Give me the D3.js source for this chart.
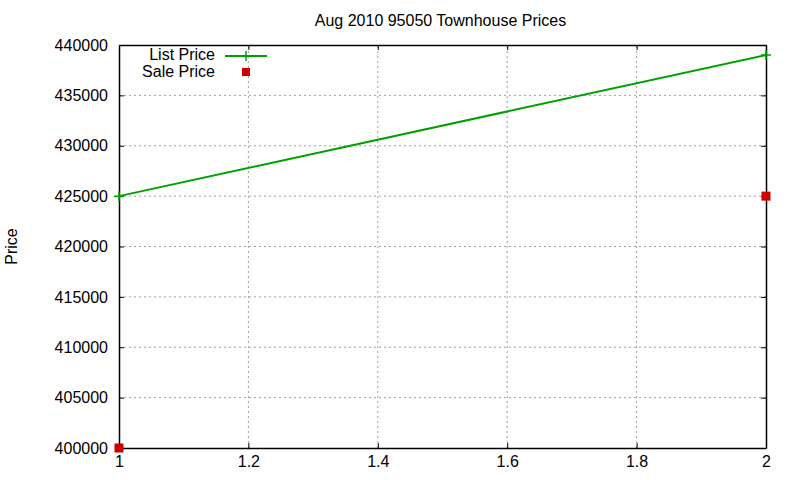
<!DOCTYPE html>
<html>
<head>
<meta charset="utf-8">
<script src="https://cdn.jsdelivr.net/npm/d3@7"></script>
<style>
  body { margin: 0; background: #fff; }
  text { font-family: "Liberation Sans", Arial, sans-serif; font-size: 16px; fill: #000; }
</style>
</head>
<body>
<script>
var width = 800, height = 480;
var margin = { top: 45, right: 34, bottom: 32, left: 119 };

var title = "Aug 2010 95050 Townhouse Prices";
var yLabel = "Price";

var listX = [1, 2];
var listPrice = [425000, 439000];
var saleX = [1, 2];
var salePrice = [400000, 425000];

var xTicks = [1, 1.2, 1.4, 1.6, 1.8, 2];
var yTicks = [400000, 405000, 410000, 415000, 420000, 425000, 430000, 435000, 440000];

var lineColor = "#00a000";
var pointColor = "#cc0000";

var svg = d3.select("body").append("svg")
    .attr("width", width)
    .attr("height", height);

var x = d3.scaleLinear().domain([1, 2]).range([margin.left, width - margin.right]);
var y = d3.scaleLinear().domain([400000, 440000]).range([height - margin.bottom, margin.top]);

// grid
svg.append("g").selectAll("line")
    .data(xTicks.slice(1, -1))
    .enter().append("line")
    .attr("x1", d => x(d)).attr("x2", d => x(d))
    .attr("y1", y(400000)).attr("y2", y(440000))
    .attr("stroke", "#a0a0a0").attr("stroke-dasharray", "2,3");
svg.append("g").selectAll("line")
    .data(yTicks.slice(1, -1))
    .enter().append("line")
    .attr("x1", x(1)).attr("x2", x(2))
    .attr("y1", d => y(d)).attr("y2", d => y(d))
    .attr("stroke", "#a0a0a0").attr("stroke-dasharray", "2,3");

// axes (ticks inward, mirrored)
svg.append("g")
    .attr("transform", "translate(0," + y(400000) + ")")
    .call(d3.axisBottom(x).tickValues(xTicks).tickFormat(d3.format("")).tickSizeInner(-5).tickSizeOuter(0).tickPadding(8));
svg.append("g")
    .attr("transform", "translate(0," + y(440000) + ")")
    .call(d3.axisTop(x).tickValues(xTicks).tickFormat("").tickSizeInner(-5).tickSizeOuter(0));
svg.append("g")
    .attr("transform", "translate(" + x(1) + ",0)")
    .call(d3.axisLeft(y).tickValues(yTicks).tickFormat(d3.format("d")).tickSizeInner(-5).tickSizeOuter(0).tickPadding(11));
svg.append("g")
    .attr("transform", "translate(" + x(2) + ",0)")
    .call(d3.axisRight(y).tickValues(yTicks).tickFormat("").tickSizeInner(-5).tickSizeOuter(0));

svg.selectAll(".domain").attr("stroke", "#000").attr("stroke-width", 1.5);
svg.selectAll(".tick line").attr("stroke", "#000");
svg.selectAll(".tick text")
    .style("font-family", "'Liberation Sans', Arial, sans-serif")
    .style("font-size", "16px")
    .attr("fill", "#000");

// title and y label
svg.append("text")
    .attr("x", (x(1) + x(2)) / 2 - 2)
    .attr("y", 26)
    .attr("text-anchor", "middle")
    .text(title);
svg.append("text")
    .attr("transform", "translate(17," + (y(420000)) + ") rotate(-90)")
    .attr("text-anchor", "middle")
    .text(yLabel);

// list price line
var listData = listX.map((d, i) => ({ x: d, y: listPrice[i] }));
svg.append("path")
    .datum(listData)
    .attr("fill", "none")
    .attr("stroke", lineColor)
    .attr("stroke-width", 2)
    .attr("d", d3.line().x(d => x(d.x)).y(d => y(d.y)));
svg.append("g").selectAll("path")
    .data(listData)
    .enter().append("path")
    .attr("d", d => "M" + (x(d.x) - 5) + "," + y(d.y) + "h10M" + x(d.x) + "," + (y(d.y) - 5) + "v10")
    .attr("stroke", lineColor)
    .attr("stroke-width", 1.5);

// sale price points
var saleData = saleX.map((d, i) => ({ x: d, y: salePrice[i] }));
svg.append("g").selectAll("rect")
    .data(saleData)
    .enter().append("rect")
    .attr("x", d => x(d.x) - 4.5)
    .attr("y", d => y(d.y) - 4.5)
    .attr("width", 9).attr("height", 9)
    .attr("fill", pointColor);

// legend
var lg = svg.append("g");
lg.append("text").attr("x", 215).attr("y", 60).attr("text-anchor", "end").text("List Price");
lg.append("line").attr("x1", 225).attr("x2", 267).attr("y1", 56).attr("y2", 56)
    .attr("stroke", lineColor).attr("stroke-width", 2);
lg.append("path").attr("d", "M241,56h10M246,51v10").attr("stroke", lineColor).attr("stroke-width", 1.5);
lg.append("text").attr("x", 215).attr("y", 77).attr("text-anchor", "end").text("Sale Price");
lg.append("rect").attr("x", 242).attr("y", 68).attr("width", 8).attr("height", 8).attr("fill", pointColor);
</script>
</body>
</html>
